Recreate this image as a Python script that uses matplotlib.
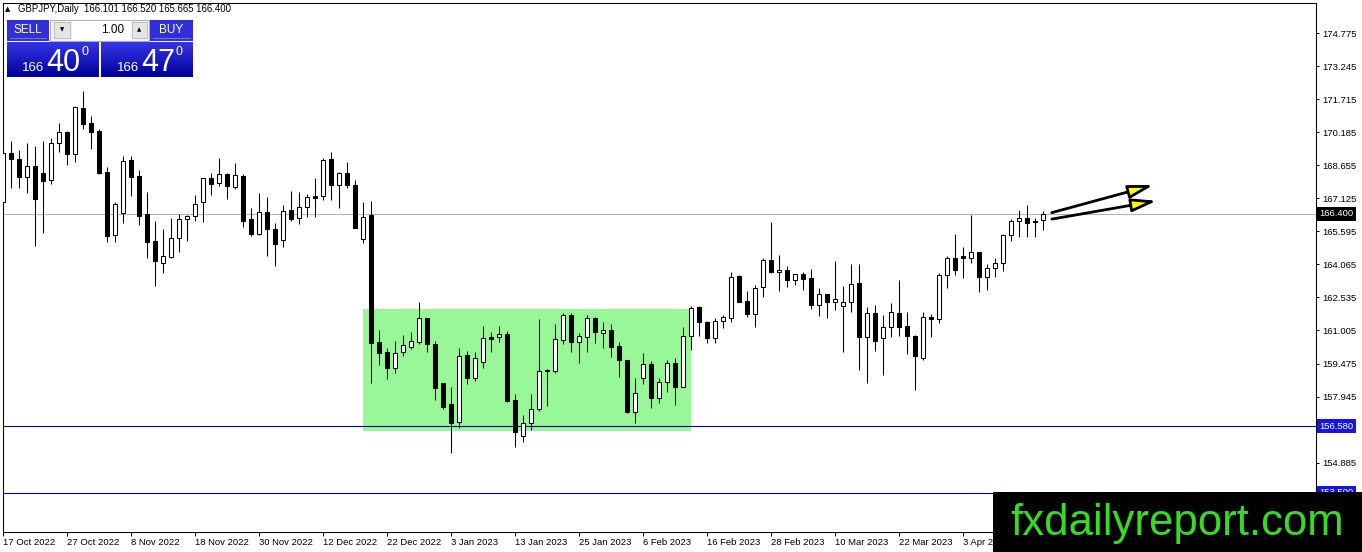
import numpy as np
import matplotlib
matplotlib.use("Agg")
import matplotlib.pyplot as plt
from matplotlib.patches import Rectangle
from matplotlib.colors import LinearSegmentedColormap

plt.rcParams['font.family'] = ['Liberation Sans', 'DejaVu Sans']

# --- Data: GBPJPY daily candles ---
opens = [166.97, 169.21, 168.94, 168.12, 168.62, 168.28, 167.97, 169.67, 170.21, 169.16,
         171.29, 170.62, 170.25, 168.32, 165.42, 166.43, 168.90, 168.15, 166.38, 165.14,
         164.11, 164.42, 165.27, 166.16, 166.29, 166.94, 168.05, 167.85, 168.25, 167.66,
         168.15, 166.16, 165.46, 166.49, 165.69, 165.19, 166.57, 166.19, 166.71, 167.22,
         167.23, 168.93, 167.72, 168.28, 167.72, 165.24, 166.35, 160.47, 160.00, 159.28,
         160.02, 160.26, 160.49, 161.57, 160.38, 158.56, 157.58, 156.78, 159.86, 158.82,
         159.55, 160.69, 160.72, 160.83, 157.78, 156.12, 156.71, 157.37, 159.14, 159.14,
         160.57, 161.72, 160.49, 160.72, 161.57, 160.88, 161.03, 160.29, 159.64, 157.24,
         158.79, 159.44, 157.86, 158.60, 159.48, 158.40, 160.75, 162.08, 161.38, 160.64,
         161.46, 161.60, 163.52, 162.37, 161.77, 163.03, 164.27, 163.70, 163.81, 163.35,
         163.63, 163.44, 162.19, 162.68, 162.34, 162.16, 162.31, 163.19, 160.71, 161.80,
         160.67, 161.15, 161.80, 161.21, 160.77, 159.71, 161.64, 161.55, 163.57, 164.36,
         164.45, 164.38, 164.62, 163.49, 163.88, 164.11, 165.42, 166.07, 166.19, 166.07,
         166.101]
highs = [169.60, 169.78, 169.36, 169.70, 169.54, 169.78, 169.90, 170.60, 170.25, 171.40,
         172.10, 170.93, 170.33, 168.56, 166.97, 169.08, 169.08, 168.43, 167.40, 166.07,
         165.70, 166.22, 166.40, 166.35, 167.27, 168.08, 168.28, 168.97, 168.31, 168.74,
         168.23, 166.66, 167.38, 167.20, 165.96, 166.81, 167.46, 167.40, 167.32, 168.05,
         169.00, 169.25, 168.35, 168.79, 167.97, 166.94, 167.00, 161.02, 160.21, 160.53,
         160.79, 160.95, 162.34, 161.60, 160.53, 158.59, 158.37, 160.18, 160.05, 160.02,
         161.21, 160.95, 161.21, 160.98, 158.05, 157.09, 158.05, 161.53, 159.22, 161.29,
         161.80, 161.80, 160.88, 161.72, 161.65, 161.38, 161.29, 160.49, 159.66, 158.79,
         159.95, 159.59, 158.82, 159.64, 159.74, 161.18, 162.15, 162.12, 161.45, 161.60,
         161.72, 163.72, 163.57, 162.83, 163.11, 164.38, 166.01, 164.50, 163.97, 163.63,
         163.72, 163.87, 162.98, 162.70, 164.24, 163.06, 164.06, 164.10, 162.10, 162.19,
         161.72, 162.29, 163.34, 161.84, 160.80, 161.87, 161.77, 163.68, 164.45, 165.46,
         164.85, 166.35, 164.66, 164.07, 164.38, 165.48, 166.16, 166.58, 166.81, 166.19,
         166.520]
lows = [166.50, 167.59, 167.59, 167.38, 164.93, 165.50, 167.79, 169.28, 168.66, 168.82,
        170.32, 169.40, 168.25, 165.08, 165.11, 165.96, 167.24, 165.89, 164.34, 163.06,
        163.65, 164.34, 164.65, 165.16, 166.09, 166.04, 167.27, 167.71, 167.09, 167.57,
        165.81, 165.40, 165.42, 164.47, 163.99, 164.85, 166.09, 165.92, 166.24, 166.27,
        167.04, 167.06, 166.69, 167.58, 165.74, 165.04, 158.59, 159.40, 158.76, 159.05,
        159.81, 160.15, 160.38, 160.02, 157.81, 157.35, 155.35, 156.47, 158.51, 158.68,
        159.28, 160.02, 160.49, 157.71, 155.62, 155.86, 156.40, 157.30, 157.52, 159.02,
        160.37, 159.99, 159.48, 159.99, 160.41, 160.18, 159.79, 158.86, 157.17, 156.71,
        158.51, 157.40, 157.63, 158.14, 157.55, 158.38, 160.10, 160.76, 160.44, 160.44,
        161.13, 161.41, 162.31, 161.64, 161.18, 162.57, 163.66, 162.83, 163.03, 163.11,
        162.89, 162.00, 161.69, 161.60, 161.97, 160.02, 161.88, 159.17, 158.56, 160.07,
        158.94, 160.72, 160.77, 159.92, 158.25, 159.63, 160.72, 161.33, 162.96, 163.57,
        163.42, 164.15, 162.77, 162.87, 163.49, 163.77, 165.16, 165.35, 165.35, 165.35,
        165.665]
closes = [169.21, 168.93, 168.12, 168.62, 167.07, 167.94, 169.67, 170.18, 169.16, 171.34,
          170.55, 170.21, 168.31, 165.39, 166.84, 168.85, 168.12, 166.32, 165.11, 164.23,
          164.45, 165.27, 166.16, 166.29, 166.84, 168.05, 167.80, 168.25, 167.69, 168.20,
          166.09, 165.46, 166.49, 165.69, 164.99, 166.55, 166.18, 166.71, 167.17, 167.16,
          168.90, 167.72, 168.28, 167.72, 165.76, 166.27, 160.44, 159.97, 159.28, 159.94,
          160.32, 160.52, 161.57, 160.36, 158.35, 157.47, 156.73, 159.83, 158.79, 159.71,
          160.67, 160.61, 160.83, 157.74, 156.32, 156.73, 157.35, 159.14, 159.19, 160.60,
          161.72, 160.49, 160.74, 161.57, 160.95, 161.03, 160.26, 159.64, 157.24, 158.09,
          159.44, 157.86, 158.60, 159.48, 158.40, 160.75, 162.05, 161.38, 160.64, 161.46,
          161.61, 163.49, 162.34, 161.77, 162.96, 164.27, 163.70, 163.81, 163.35, 163.61,
          163.40, 162.19, 162.68, 162.34, 162.46, 162.31, 163.14, 160.71, 161.80, 160.53,
          161.15, 161.84, 161.18, 160.77, 159.83, 161.61, 161.55, 163.57, 164.36, 163.80,
          164.38, 164.62, 163.49, 163.88, 164.11, 165.42, 166.07, 166.19, 165.96, 166.04,
          166.400]

date_ticks = [0, 8, 16, 24, 32, 40, 48, 56, 64, 72, 80, 88, 96, 104, 112, 120]
date_labels = ["17 Oct 2022", "27 Oct 2022", "8 Nov 2022", "18 Nov 2022", "30 Nov 2022",
               "12 Dec 2022", "22 Dec 2022", "3 Jan 2023", "13 Jan 2023", "25 Jan 2023",
               "6 Feb 2023", "16 Feb 2023", "28 Feb 2023", "10 Mar 2023", "22 Mar 2023",
               "3 Apr 2023"]
price_ticks = [174.775, 173.245, 171.715, 170.185, 168.655, 167.125, 165.595, 164.065,
               162.535, 161.005, 159.475, 157.945, 156.415, 154.885]

last_price = 166.400
support_1 = 156.580
support_2 = 153.500
range_box = (45, 86, 156.36, 161.98)   # bar from, bar to, price low, price high

W_PX, H_PX = 1362, 552

# --- Figure ---
fig = plt.figure(figsize=(W_PX / 100, H_PX / 100), dpi=100)
fig.patch.set_facecolor('white')
left_px, right_px, top_px, bot_px = 2.7, 1316, 2.7, 531.7
ax = fig.add_axes([left_px / W_PX, 1 - bot_px / H_PX,
                   (right_px - left_px) / W_PX, (bot_px - top_px) / H_PX])
ax.set_facecolor('white')

x = np.arange(len(opens))
o = np.array(opens)
c = np.array(closes)
up = c >= o

# range rectangle
b0, b1, plo, phi = range_box
ax.add_patch(Rectangle((b0, plo), b1 - b0, phi - plo, facecolor='#98f898',
                       edgecolor='none', zorder=1))

# horizontal lines
ax.axhline(last_price, color='#b4b4b4', lw=0.8, zorder=1.5)
ax.axhline(support_1, color='#0000a0', lw=0.8, zorder=1.6)
ax.axhline(support_2, color='#0000a0', lw=0.8, zorder=1.6)

# candles
ax.vlines(x, lows, highs, color='black', lw=0.75, zorder=2)
ax.bar(x, np.abs(c - o), bottom=np.minimum(o, c), width=0.6,
       color=np.where(up, 'white', 'black'), edgecolor='black', linewidth=0.75, zorder=3)

ax.set_xlim(-0.04, (right_px - 3) / 8)
ax.set_ylim(151.69, 176.18)

for s in ax.spines.values():
    s.set_color('black')
    s.set_linewidth(0.75)

ax.yaxis.tick_right()
ax.set_yticks(price_ticks)
ax.set_yticklabels([f"{p:.3f}" for p in price_ticks])
ax.tick_params(axis='y', direction='out', length=2.5, width=0.7, pad=2,
               labelsize=6.8, colors='black')
ax.set_xticks(date_ticks)
ax.set_xticklabels(date_labels)
ax.tick_params(axis='x', direction='out', length=3, width=0.7, pad=1.5,
               labelsize=6.8, colors='black')
for lbl in ax.get_xticklabels():
    lbl.set_ha('left')

# price tags on the right scale (they sit over the scale, as in the terminal)
ytr = ax.get_yaxis_transform()
for val, bg in [(last_price, 'black'), (support_1, '#1515e8'), (support_2, '#1515e8')]:
    ax.text(1.0025, val, f"{val:.3f}", transform=ytr, ha='left', va='center',
            fontsize=6.8, color='white', zorder=6, clip_on=False,
            bbox=dict(boxstyle='square,pad=0.25', fc=bg, ec='none'))

# arrows
for start, tip in [((131.1, 166.46), (143.8, 167.74)), ((131.1, 166.16), (144.2, 167.01))]:
    ax.annotate('', xy=tip, xytext=start,
                arrowprops=dict(arrowstyle='-|>,head_length=1.5,head_width=0.4',
                                lw=2.0, fc='#ffff00', ec='black',
                                shrinkA=0, shrinkB=0), zorder=7)

# --- Trade panel (pixel coordinates) ---
pax = fig.add_axes([0, 1 - 80 / H_PX, 200 / W_PX, 80 / H_PX])
pax.set_xlim(0, 200)
pax.set_ylim(80, 0)
pax.axis('off')

pax.text(5, 9, '▲', fontsize=5, va='center', ha='left', family=['DejaVu Sans'])
pax.text(18, 9, 'GBPJPY,Daily  166.101 166.520 165.665 166.400', fontsize=6.9,
         va='center', ha='left')

pax.add_patch(Rectangle((6, 19), 188, 59, facecolor='white', edgecolor='none'))
btn = '#3030d8'
pax.add_patch(Rectangle((7, 20), 42, 21, facecolor=btn, edgecolor='none'))
pax.add_patch(Rectangle((150, 20), 43, 21, facecolor=btn, edgecolor='none'))
pax.plot([10, 46], [38, 38], color='#8080f0', lw=0.6)
pax.plot([153, 190], [38, 38], color='#8080f0', lw=0.6)
pax.text(28, 30, 'SELL', color='white', fontsize=8.5, ha='center', va='center')
pax.text(171.5, 30, 'BUY', color='white', fontsize=8.5, ha='center', va='center')

pax.add_patch(Rectangle((50, 20), 99, 21, facecolor='#f0f0f0', edgecolor='#a0a0a0', lw=0.6))
pax.add_patch(Rectangle((54, 22), 16, 16, facecolor='#e4e4e4', edgecolor='#b0b0b0', lw=0.5))
pax.add_patch(Rectangle((72, 21), 59, 19, facecolor='white', edgecolor='none'))
pax.add_patch(Rectangle((132, 22), 15, 16, facecolor='#e4e4e4', edgecolor='#b0b0b0', lw=0.5))
pax.text(62, 30, '▼', fontsize=4, ha='center', va='center', family=['DejaVu Sans'])
pax.text(139.5, 30, '▲', fontsize=4, ha='center', va='center', family=['DejaVu Sans'])
pax.text(124, 30, '1.00', fontsize=8.5, ha='right', va='center')

grad_cmap = LinearSegmentedColormap.from_list('mtblue', ['#3535e8', '#00009a'])
grad = np.linspace(0, 1, 64).reshape(-1, 1)
for x0, x1 in [(7, 99), (101, 193)]:
    pax.imshow(grad, cmap=grad_cmap, extent=(x0, x1, 77, 42), aspect='auto',
               interpolation='bilinear', zorder=2)
pax.set_xlim(0, 200)
pax.set_ylim(80, 0)

for bx, big in [(22, '40'), (117, '47')]:
    pax.text(bx, 71, '166', color='white', fontsize=9.5, ha='left', va='baseline', zorder=3)
    pax.text(bx + 24, 71, big, color='white', fontsize=22, ha='left', va='baseline', zorder=3)
    pax.text(bx + 59, 55, '0', color='white', fontsize=9, ha='left', va='baseline', zorder=3)

# --- Watermark ---
fig.add_artist(Rectangle((993 / W_PX, 0), (W_PX - 993) / W_PX, 60 / H_PX,
                         transform=fig.transFigure, facecolor='black',
                         edgecolor='none', zorder=20))
fig.text(1177 / W_PX, 1 - 535 / H_PX, 'fxdailyreport.com', color='#35dc22',
         fontsize=31.5, ha='center', va='baseline', zorder=21)

fig.savefig('out.png', dpi=100)
